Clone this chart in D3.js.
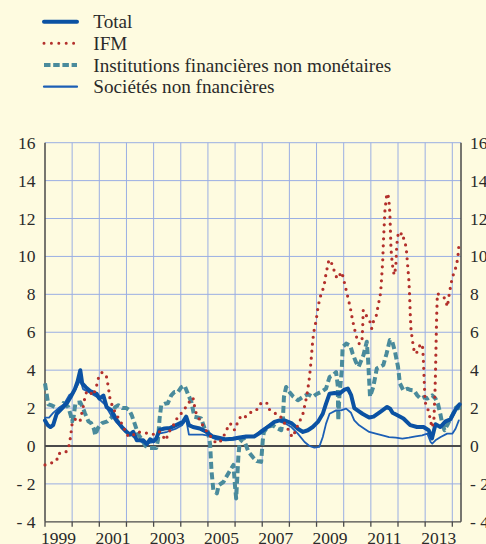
<!DOCTYPE html>
<html><head><meta charset="utf-8">
<script src="https://cdn.jsdelivr.net/npm/d3@7/dist/d3.min.js"></script>
<style>html,body{margin:0;padding:0;background:#fefbe0;}svg{display:block;}svg text{font-family:"Liberation Serif","Times New Roman","DejaVu Serif",serif;}</style>
</head><body>
<svg id="c" width="486" height="544"></svg>
<script>
const seriesNames = ["Total", "IFM", "Institutions financières non monétaires", "Sociétés non fnancières"];
const yTicks = [-4, -2, 0, 2, 4, 6, 8, 10, 12, 14, 16];
const yearLabels = [1999, 2001, 2003, 2005, 2007, 2009, 2011, 2013];
const yearTicks = [1999,2000,2001,2002,2003,2004,2005,2006,2007,2008,2009,2010,2011,2012,2013,2014];

const total = [[1999.0,1.35],[1999.1,1.1],[1999.2,1.0],[1999.3,1.1],[1999.43,1.7],[1999.6,1.95],[1999.8,2.25],[1999.95,2.6],[2000.1,3.0],[2000.2,3.4],[2000.3,4.0],[2000.37,3.3],[2000.5,3.1],[2000.66,2.9],[2000.9,2.75],[2001.0,2.5],[2001.15,2.66],[2001.27,2.05],[2001.45,1.88],[2001.64,1.36],[2001.83,1.0],[2002.0,0.75],[2002.13,0.6],[2002.25,0.75],[2002.38,0.3],[2002.62,0.3],[2002.75,0.1],[2002.87,0.35],[2003.0,0.25],[2003.1,0.4],[2003.22,0.85],[2003.4,0.92],[2003.6,0.95],[2003.83,1.1],[2004.08,1.27],[2004.2,1.55],[2004.3,1.1],[2004.45,1.0],[2004.7,0.92],[2004.94,0.75],[2005.18,0.5],[2005.43,0.42],[2005.67,0.35],[2005.92,0.38],[2006.17,0.45],[2006.41,0.5],[2006.7,0.5],[2006.96,0.74],[2007.2,1.0],[2007.45,1.27],[2007.64,1.35],[2007.82,1.35],[2008.07,1.21],[2008.31,0.91],[2008.5,0.74],[2008.68,0.83],[2008.86,1.0],[2009.05,1.27],[2009.23,1.7],[2009.35,2.23],[2009.48,2.76],[2009.66,2.8],[2009.84,2.76],[2010.03,2.97],[2010.15,3.03],[2010.27,2.7],[2010.39,2.0],[2010.51,1.88],[2010.69,1.7],[2010.82,1.6],[2010.94,1.5],[2011.1,1.55],[2011.35,1.8],[2011.6,2.06],[2011.71,1.97],[2011.8,1.75],[2011.96,1.63],[2012.2,1.45],[2012.45,1.1],[2012.7,1.0],[2012.94,1.0],[2013.13,0.83],[2013.25,0.4],[2013.38,1.15],[2013.56,1.0],[2013.75,1.3],[2013.93,1.4],[2014.11,1.9],[2014.27,2.2]];

const ifm = [[1999.0,-1.0],[1999.15,-0.95],[1999.28,-0.87],[1999.43,-0.77],[1999.49,-0.4],[1999.6,-0.38],[1999.75,-0.35],[1999.86,-0.15],[1999.92,0.3],[1999.96,0.7],[1999.99,1.1],[2000.04,1.36],[2000.17,1.44],[2000.29,1.3],[2000.35,1.7],[2000.41,2.09],[2000.47,2.57],[2000.54,2.9],[2000.66,2.83],[2000.78,2.66],[2000.9,3.18],[2000.97,3.6],[2001.09,3.88],[2001.25,3.76],[2001.31,3.3],[2001.36,2.83],[2001.4,2.43],[2001.52,1.97],[2001.64,1.62],[2001.76,1.36],[2001.89,1.0],[2002.03,0.57],[2002.19,0.49],[2002.38,0.75],[2002.62,0.7],[2002.85,0.66],[2003.05,0.6],[2003.22,0.75],[2003.35,0.5],[2003.45,0.3],[2003.55,0.7],[2003.77,1.19],[2003.9,1.57],[2004.08,1.8],[2004.26,2.23],[2004.45,2.55],[2004.5,2.15],[2004.57,1.71],[2004.7,1.36],[2004.88,0.92],[2005.06,0.58],[2005.25,0.23],[2005.37,0.14],[2005.5,0.31],[2005.6,0.58],[2005.8,1.19],[2005.9,1.1],[2005.98,0.84],[2006.1,1.27],[2006.23,1.62],[2006.4,1.54],[2006.6,1.8],[2006.78,1.88],[2006.96,2.27],[2007.09,2.32],[2007.2,2.23],[2007.27,1.92],[2007.45,1.74],[2007.64,1.62],[2007.76,1.35],[2007.94,0.91],[2008.07,0.56],[2008.13,0.47],[2008.25,0.91],[2008.37,1.27],[2008.5,1.7],[2008.62,2.5],[2008.68,3.0],[2008.74,3.64],[2008.78,4.2],[2008.83,5.05],[2008.86,5.58],[2008.92,6.19],[2008.99,6.63],[2009.02,7.02],[2009.08,7.51],[2009.17,8.04],[2009.27,8.39],[2009.35,9.1],[2009.44,9.71],[2009.5,9.83],[2009.6,9.48],[2009.68,9.1],[2009.76,8.83],[2009.84,9.0],[2009.93,9.18],[2010.03,8.6],[2010.12,8.05],[2010.21,7.5],[2010.27,7.1],[2010.33,6.6],[2010.39,6.25],[2010.45,5.83],[2010.57,5.4],[2010.67,5.45],[2010.7,6.29],[2010.72,7.17],[2010.79,7.0],[2010.9,6.7],[2010.97,6.55],[2011.03,6.2],[2011.09,6.55],[2011.19,6.8],[2011.25,7.26],[2011.31,7.7],[2011.36,8.08],[2011.4,8.93],[2011.44,9.85],[2011.46,10.69],[2011.49,11.57],[2011.52,12.45],[2011.59,13.33],[2011.65,13.15],[2011.68,12.7],[2011.7,12.28],[2011.72,11.4],[2011.74,10.5],[2011.76,10.07],[2011.79,9.63],[2011.83,9.19],[2011.87,9.02],[2011.92,9.5],[2011.95,10.43],[2011.97,10.81],[2012.01,11.22],[2012.08,11.1],[2012.14,11.25],[2012.22,10.9],[2012.3,10.5],[2012.35,9.63],[2012.4,8.75],[2012.43,7.87],[2012.45,6.99],[2012.48,6.11],[2012.55,5.4],[2012.61,4.87],[2012.71,4.96],[2012.83,5.4],[2012.9,5.3],[2012.93,4.69],[2012.96,3.6],[2013.0,2.3],[2013.08,2.06],[2013.17,1.54],[2013.25,0.97],[2013.32,1.3],[2013.36,2.76],[2013.38,3.81],[2013.4,5.22],[2013.42,6.63],[2013.45,8.05],[2013.6,7.9],[2013.73,7.79],[2013.82,7.35],[2013.89,8.05],[2013.98,8.75],[2014.05,9.1],[2014.14,9.46],[2014.2,9.9],[2014.23,10.34],[2014.25,10.78]];

const inst = [[1999.0,3.3],[1999.06,2.75],[1999.12,2.2],[1999.25,2.14],[1999.37,2.05],[1999.5,1.88],[1999.6,2.0],[1999.68,2.26],[1999.74,2.2],[1999.86,2.05],[1999.95,1.6],[2000.0,1.3],[2000.06,1.6],[2000.12,2.26],[2000.3,2.3],[2000.4,2.0],[2000.47,1.73],[2000.6,1.3],[2000.7,1.2],[2000.8,0.9],[2000.85,0.57],[2000.95,0.95],[2001.1,1.2],[2001.3,1.3],[2001.45,1.5],[2001.58,2.05],[2001.7,2.15],[2001.85,2.0],[2002.0,2.0],[2002.1,1.9],[2002.2,1.6],[2002.32,1.1],[2002.44,0.6],[2002.56,0.35],[2002.7,0.0],[2002.85,-0.1],[2003.0,-0.1],[2003.1,-0.1],[2003.16,0.31],[2003.22,1.45],[2003.28,2.15],[2003.4,2.23],[2003.52,2.25],[2003.65,2.67],[2003.77,2.85],[2003.9,2.85],[2004.02,3.1],[2004.14,3.19],[2004.26,2.76],[2004.39,2.32],[2004.5,1.54],[2004.62,1.5],[2004.75,1.45],[2004.88,0.92],[2005.0,0.75],[2005.08,0.1],[2005.13,-1.28],[2005.2,-2.33],[2005.33,-2.5],[2005.4,-2.07],[2005.57,-1.9],[2005.75,-1.45],[2005.94,-1.0],[2006.0,-2.16],[2006.04,-2.77],[2006.08,-1.7],[2006.12,-0.57],[2006.17,0.2],[2006.3,0.4],[2006.37,0.15],[2006.49,-0.3],[2006.66,-0.6],[2006.8,-0.8],[2006.96,-0.84],[2007.02,0.3],[2007.06,0.74],[2007.2,1.0],[2007.39,1.09],[2007.58,0.91],[2007.7,0.83],[2007.76,1.35],[2007.8,2.59],[2007.88,3.11],[2008.0,2.85],[2008.13,2.62],[2008.31,2.41],[2008.5,2.59],[2008.68,2.73],[2008.86,2.59],[2008.99,2.73],[2009.17,2.85],[2009.35,3.03],[2009.48,3.64],[2009.6,3.73],[2009.72,3.9],[2009.78,3.2],[2009.8,1.35],[2009.84,2.6],[2009.93,4.0],[2009.96,5.22],[2010.09,5.4],[2010.24,5.3],[2010.33,4.87],[2010.45,4.43],[2010.55,4.18],[2010.73,4.8],[2010.85,5.5],[2010.9,4.5],[2010.97,2.6],[2011.09,3.12],[2011.22,4.09],[2011.46,4.27],[2011.58,4.88],[2011.7,5.59],[2011.79,5.5],[2011.89,4.97],[2012.0,4.18],[2012.07,3.3],[2012.2,2.93],[2012.34,3.02],[2012.47,2.95],[2012.59,2.93],[2012.71,2.67],[2012.83,2.5],[2012.96,2.58],[2013.08,2.5],[2013.26,2.67],[2013.38,2.5],[2013.47,2.23],[2013.57,1.62],[2013.63,1.18],[2013.71,0.83],[2013.81,1.09],[2013.93,1.44],[2014.03,1.7],[2014.12,2.0],[2014.2,2.1],[2014.3,1.9]];

const snf = [[1999.0,1.5],[1999.15,1.5],[1999.3,1.75],[1999.5,2.0],[1999.7,2.2],[1999.9,2.7],[2000.05,2.8],[2000.2,3.2],[2000.3,3.5],[2000.4,3.0],[2000.6,2.85],[2000.9,2.6],[2001.05,2.4],[2001.2,2.2],[2001.4,1.7],[2001.6,1.3],[2001.8,1.0],[2002.0,0.7],[2002.2,0.55],[2002.4,0.3],[2002.6,0.2],[2002.8,0.15],[2003.0,0.2],[2003.2,0.65],[2003.5,0.75],[2003.8,0.9],[2004.05,1.1],[2004.2,1.4],[2004.3,0.6],[2004.55,0.6],[2004.8,0.6],[2005.0,0.55],[2005.3,0.35],[2005.6,0.3],[2006.0,0.35],[2006.4,0.45],[2006.7,0.5],[2006.96,0.83],[2007.33,1.18],[2007.58,1.35],[2007.82,1.21],[2008.07,1.0],[2008.31,0.65],[2008.56,0.21],[2008.74,0.0],[2008.92,-0.09],[2009.1,-0.05],[2009.23,0.47],[2009.35,1.18],[2009.48,1.7],[2009.72,1.88],[2009.9,1.88],[2010.09,1.97],[2010.27,1.75],[2010.39,1.35],[2010.57,1.09],[2010.76,0.91],[2010.94,0.74],[2011.18,0.65],[2011.43,0.56],[2011.67,0.47],[2011.92,0.44],[2012.16,0.39],[2012.4,0.44],[2012.65,0.51],[2012.89,0.56],[2013.08,0.65],[2013.2,0.21],[2013.26,0.12],[2013.38,0.3],[2013.57,0.47],[2013.81,0.65],[2014.0,0.65],[2014.12,0.91],[2014.24,1.35]];

const svg = d3.select("#c");
const W = 486, H = 544;
svg.append("rect").attr("width", W).attr("height", H).attr("fill", "#fefbe0");

const x = d3.scaleLinear().domain([1999, 2014.32]).range([45, 461]);
const y = d3.scaleLinear().domain([-4, 16]).range([521.8, 142.7]);
const gridC = "#9aaee3", axisC = "#4a4a4a", txtC = "#2a2a2a";

// grid
const g = svg.append("g");
g.selectAll(".hg").data(yTicks.filter(v => v > -4 && v !== 0)).enter().append("line")
  .attr("x1", x(1999)).attr("x2", x.range()[1]).attr("y1", d => y(d)).attr("y2", d => y(d))
  .attr("stroke", gridC).attr("stroke-width", 1);
g.selectAll(".vg").data(yearTicks.slice(1)).enter().append("line")
  .attr("x1", d => x(d)).attr("x2", d => x(d)).attr("y1", y(16)).attr("y2", y(-4))
  .attr("stroke", gridC).attr("stroke-width", 1);

// axes lines
g.append("line").attr("x1", x(1999)).attr("x2", x(1999)).attr("y1", y(16)).attr("y2", y(-4)).attr("stroke", axisC).attr("stroke-width", 1.5);
g.append("line").attr("x1", x.range()[1]).attr("x2", x.range()[1]).attr("y1", y(16)).attr("y2", y(-4)).attr("stroke", axisC).attr("stroke-width", 1.5);
g.append("line").attr("x1", x(1999)).attr("x2", x.range()[1]).attr("y1", y(0)).attr("y2", y(0)).attr("stroke", axisC).attr("stroke-width", 1.8);
g.append("line").attr("x1", x(1999)).attr("x2", x.range()[1]).attr("y1", y(-4)).attr("y2", y(-4)).attr("stroke", axisC).attr("stroke-width", 1.3);
g.selectAll(".tk").data(yearTicks).enter().append("line")
  .attr("x1", d => x(d)).attr("x2", d => x(d)).attr("y1", y(-4)).attr("y2", y(-4) + 5)
  .attr("stroke", axisC).attr("stroke-width", 1.3);

// tick labels
const fmt = v => v < 0 ? "- " + (-v) : String(v);
g.selectAll(".yl").data(yTicks).enter().append("text")
  .attr("x", 35.5).attr("y", d => y(d) + 6).attr("text-anchor", "end")
  .attr("font-size", 17.5).attr("fill", txtC).text(fmt);
g.selectAll(".yr").data(yTicks).enter().append("text")
  .attr("x", 470).attr("y", d => y(d) + 6).attr("text-anchor", "start")
  .attr("font-size", 17.5).attr("fill", txtC).text(fmt);
g.selectAll(".xl").data(yearLabels).enter().append("text")
  .attr("x", d => x(d + 0.5)).attr("y", 543.5).attr("text-anchor", "middle")
  .attr("font-size", 17.5).attr("fill", txtC).text(d => d);

// series
const line = d3.line().x(d => x(d[0])).y(d => y(d[1])).curve(d3.curveLinear);
const styles = [
  {data: inst, stroke: "#4a8b9c", w: 4, dash: "7,3.5", cap: "butt", name: seriesNames[2]},
  {data: snf, stroke: "#1c5fb5", w: 1.8, dash: null, cap: "round", name: seriesNames[3]},
  {data: total, stroke: "#0b52a3", w: 4, dash: null, cap: "round", name: seriesNames[0]},
  {data: ifm, stroke: "#b3302c", w: 3.2, dash: "0,7", cap: "round", name: seriesNames[1]}
];
const plot = svg.append("g");
styles.forEach(s => {
  plot.append("path").datum(s.data).attr("d", line).attr("fill", "none")
    .attr("stroke", s.stroke).attr("stroke-width", s.w).attr("stroke-linejoin", "round")
    .attr("stroke-linecap", s.cap).attr("stroke-dasharray", s.dash);
});

// legend
const legendOrder = [styles[2], styles[3], styles[0], styles[1]];
const leg = svg.append("g");
legendOrder.forEach((s, i) => {
  const ly = 21.7 + i * 21.67;
  const isIfm = s.name === seriesNames[1];
  leg.append("line").attr("x1", 44).attr("x2", 77).attr("y1", ly).attr("y2", ly)
    .attr("stroke", s.stroke).attr("stroke-width", isIfm ? 3 : (s.w === 1.8 ? 2.2 : 4))
    .attr("stroke-linecap", s.cap).attr("stroke-dasharray", isIfm ? "0,7.4" : (s.dash ? "6.5,2.7" : null));
  leg.append("text").attr("x", 93.3).attr("y", ly + 6.5)
    .attr("font-size", 19.2).attr("fill", txtC).text(s.name);
});
</script>
</body></html>
